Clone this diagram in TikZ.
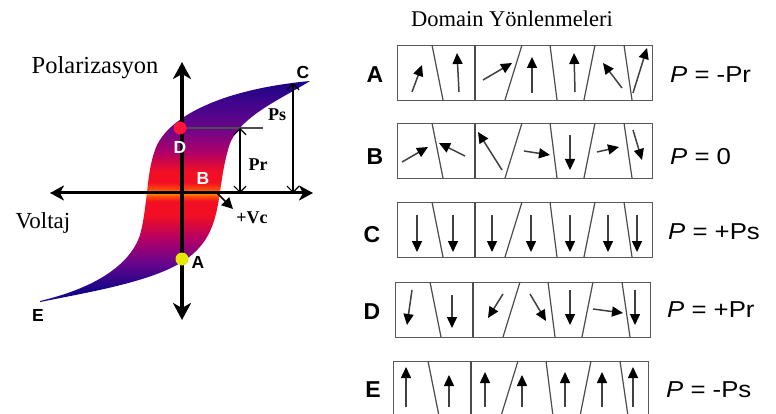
\documentclass[tikz,border=0pt]{standalone}
\usepackage{fontspec}
\setmainfont{Liberation Serif}
\setsansfont{Liberation Sans}
\newfontfamily\plfont[FakeStretch=1.12]{Liberation Sans}
\usetikzlibrary{arrows.meta,positioning}

\definecolor{lnavy}{RGB}{25,5,135}
\definecolor{lblue}{RGB}{60,5,140}
\definecolor{lpurple}{RGB}{105,5,140}
\definecolor{lmagenta}{RGB}{175,0,105}
\definecolor{lred}{RGB}{242,15,35}
\definecolor{lredor}{RGB}{255,75,10}
\definecolor{lorange}{RGB}{255,150,0}
\definecolor{dotred}{RGB}{255,20,60}
\definecolor{dotyellow}{RGB}{230,230,0}
\pgfdeclareverticalshading{loopshade}{100bp}{color(0bp)=(lnavy); color(25bp)=(lnavy);
  color(28bp)=(lnavy); color(34bp)=(lpurple); color(39bp)=(lmagenta); color(44.7bp)=(lred);
  color(47.8bp)=(lred); color(48.9bp)=(lredor); color(49.7bp)=(lorange); color(50.5bp)=(lredor);
  color(52bp)=(lred); color(54.4bp)=(lred);
  color(58.9bp)=(lmagenta); color(64.4bp)=(lpurple); color(70.7bp)=(lblue); color(75bp)=(lnavy);
  color(100bp)=(lnavy)}
\newcommand{\dwalls}{%
  \foreach \a/\b in {35/46,78/78,125/108,153/160,198/187,227/235}
    \draw[wall] (\a,0) -- (\b,55);}

\begin{document}
\begin{tikzpicture}[
  x=1pt, y=-1pt,
  every node/.style={inner sep=0pt},
  serif/.style={font=\fontsize{23}{26}\selectfont},
  ltr/.style={font=\sffamily\bfseries\fontsize{17.5}{20}\selectfont},
  rowltr/.style={font=\sffamily\bfseries\fontsize{23}{26}\selectfont},
  plbl/.style={font=\plfont\fontsize{23}{26}\selectfont, anchor=west},
  val/.style={font=\bfseries\fontsize{18}{20}\selectfont},
  axis/.style={line width=3.5pt, {Stealth[length=17pt,width=18pt,inset=5pt]}-{Stealth[length=17pt,width=18pt,inset=5pt]}},
  haxis/.style={line width=3pt, {Stealth[length=14pt,width=15pt,inset=4pt]}-{Stealth[length=14pt,width=15pt,inset=4pt]}},
  dim/.style={line width=1.2pt, {Straight Barb[length=6pt,width=12pt]}-{Straight Barb[length=6pt,width=12pt]}},
  dbox/.style={draw=black!65, line width=1.3pt, minimum width=255pt, minimum height=55pt, anchor=north west},
  wall/.style={draw=black!70, line width=1.2pt},
  darr/.style={draw=black!75, line width=1.5pt, -{Triangle[length=11pt,width=10pt,color=black]}}
]
  \useasboundingbox (0,0) rectangle (776,414);

  % hysteresis loop
  \shade[shading=loopshade] (40,301) .. controls (95,288) and (130,265) .. (140,235)
    .. controls (148,205) and (146,175) .. (155,150)
    .. controls (165,120) and (215,90) .. (310,81)
    .. controls (280,100) and (235,118) .. (228,150)
    .. controls (215,195) and (225,235) .. (182,262)
    .. controls (150,282) and (90,292) .. (40,302) -- cycle;

  \coordinate (ytop) at (182,62);
  \coordinate (ybot) at (182,320);
  \coordinate (xl) at (50,193);
  \coordinate (xr) at (313,193);
  \coordinate (dPt) at (180,128);
  \coordinate (aPt) at (182,259);
  \coordinate (lineEnd) at (263,128);
  \coordinate (prTop) at (240,128);
  \coordinate (prBot) at (240,193);
  \coordinate (psTop) at (293,83);
  \coordinate (psBot) at (293,193);
  \coordinate (vcA) at (217,193);
  \coordinate (vcB) at (233,209);

  \draw[line width=1.5pt, black!70] (dPt) -- (lineEnd);
  \draw[dim] (prTop) -- (prBot);
  \draw[dim] (psTop) -- (psBot);
  \draw[axis] (ybot) -- (ytop);
  \draw[haxis] (xl) -- (xr);
  \draw[line width=1.5pt, -{Triangle[length=11pt,width=11pt]}] (vcA) -- (vcB);
  \fill[dotred] (dPt) circle (6.5pt);
  \fill[dotyellow] (aPt) circle (6.5pt);

  \node[serif, font=\fontsize{24.5}{28}\selectfont] (Pol) at (95,68) {Polarizasyon};
  \node[serif] (Volt) at (43,223) {Voltaj};
  \node[ltr] (lC) at (303,72) {C};
  \node[ltr, text=white] (lD) at (180,147) {D};
  \node[ltr, text=white] (lB) at (203,178) {B};
  \node[ltr] (lA) at (198,262) {A};
  \node[ltr] (lE) at (38,315) {E};
  \node[val] (lPs) at (277,115) {Ps};
  \node[val] (lPr) at (258,165) {Pr};
  \node[val] (lVc) at (252,218) {+Vc};

  % domain rows
  \node[serif, font=\fontsize{22.5}{26}\selectfont] (Title) at (512,19) {Domain Yönlenmeleri};

  \node[dbox] (bA) at (397,45) {};
  \begin{scope}[shift={(bA.north west)}]
    \dwalls
    \draw[darr] (15,47) -- (25,20);  \draw[darr] (62,47) -- (60,8);
    \draw[darr] (86,35) -- (115,18); \draw[darr] (135,48) -- (135,12);
    \draw[darr] (178,47) -- (177,8); \draw[darr] (225,43) -- (206,18);
    \draw[darr] (236,48) -- (250,3);
  \end{scope}

  \node[dbox] (bB) at (397,123) {};
  \begin{scope}[shift={(bB.north west)}]
    \dwalls
    \draw[darr] (5,39) -- (31,24);   \draw[darr] (68,33) -- (42,20);
    \draw[darr] (105,47) -- (81,9);  \draw[darr] (127,28) -- (153,32);
    \draw[darr] (173,12) -- (173,47); \draw[darr] (200,29) -- (222,24);
    \draw[darr] (236,7) -- (245,37);
  \end{scope}

  \node[dbox] (bC) at (397,202) {};
  \begin{scope}[shift={(bC.north west)}]
    \dwalls
    \foreach \x in {20,56,95,134,173,211,240}
      \draw[darr] (\x,13) -- (\x,50);
  \end{scope}

  \node[dbox] (bD) at (395,282) {};
  \begin{scope}[shift={(bD.north west)}]
    \dwalls
    \draw[darr] (17,8) -- (12,43);   \draw[darr] (57,13) -- (57,46);
    \draw[darr] (108,12) -- (93,36); \draw[darr] (135,12) -- (151,39);
    \draw[darr] (175,8) -- (175,43); \draw[darr] (198,27) -- (228,31);
    \draw[darr] (240,8) -- (240,43);
  \end{scope}

  \node[dbox] (bE) at (393,361) {};
  \begin{scope}[shift={(bE.north west)}]
    \dwalls
    \foreach \x/\t in {13/6,56/14,92/11,129/14,172/11,209/11,240/6}
      \draw[darr] (\x,46) -- (\x,\t);
  \end{scope}

  \node[rowltr] (rA) at (375,75) {A};
  \node[rowltr] (rB) at (375,157) {B};
  \node[rowltr] (rC) at (372,235) {C};
  \node[rowltr] (rD) at (372,312) {D};
  \node[rowltr] (rE) at (373,390) {E};

  \node[plbl] (pA) at (670,75) {\itshape P\upshape{} = -Pr};
  \node[plbl] (pB) at (670,157) {\itshape P\upshape{} = 0};
  \node[plbl] (pC) at (668,232) {\itshape P\upshape{} = +Ps};
  \node[plbl] (pD) at (667,310) {\itshape P\upshape{} = +Pr};
  \node[plbl] (pE) at (666,390) {\itshape P\upshape{} = -Ps};
\end{tikzpicture}
\end{document}
